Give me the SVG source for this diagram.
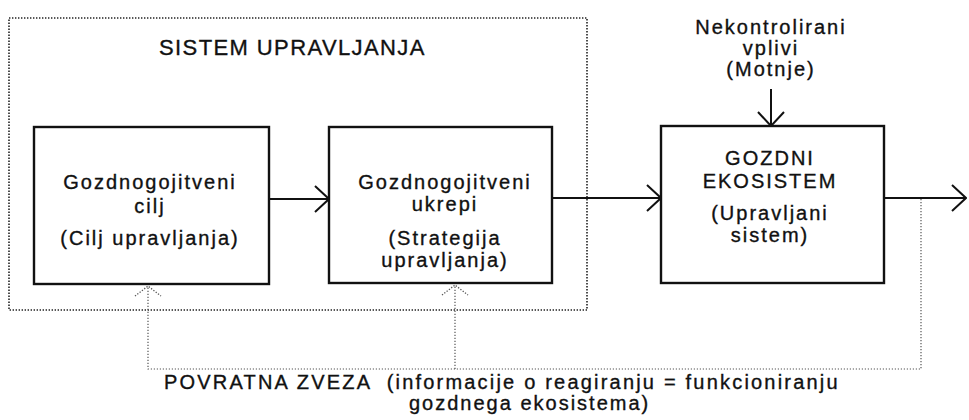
<svg xmlns="http://www.w3.org/2000/svg" width="969" height="420" viewBox="0 0 969 420">
<style>
text{font-family:"Liberation Sans",Arial,sans-serif;fill:#111;stroke:#111;stroke-width:0.35;letter-spacing:2px;white-space:pre}
.t{font-size:20px}
.big{font-size:22px;letter-spacing:1.4px}
.box{fill:none;stroke:#111;stroke-width:2.4}
.flow{fill:none;stroke:#111;stroke-width:2}
.dot{fill:none;stroke:#222;stroke-width:1.6;stroke-dasharray:1.4 1.6}
.fb{fill:none;stroke:#555;stroke-width:1.2;stroke-dasharray:1.2 1.8}
</style>
<defs>
<marker id="ah" viewBox="0 0 16 28" refX="15" refY="14" markerWidth="16" markerHeight="28" markerUnits="userSpaceOnUse" orient="auto">
<path d="M1,1 L15,14 L1,27" fill="none" stroke="#111" stroke-width="2"/>
</marker>
<marker id="ahd" viewBox="0 0 12 28" refX="11" refY="14" markerWidth="12" markerHeight="28" markerUnits="userSpaceOnUse" orient="auto">
<path d="M1,1 L11,14 L1,27" fill="none" stroke="#555" stroke-width="1.3" stroke-dasharray="1.3 1.6"/>
</marker>
</defs>
<g id="system-boundary">
<rect class="dot" x="9" y="18" width="578" height="292"/>
<text class="big" x="159" y="55">SISTEM UPRAVLJANJA</text>
</g>
<g id="node-cilj">
<rect class="box" x="34" y="127" width="235" height="157"/>
<text class="t" text-anchor="middle" x="150" y="189">Gozdnogojitveni</text>
<text class="t" text-anchor="middle" x="150" y="213">cilj</text>
<text class="t" text-anchor="middle" x="150" y="245">(Cilj upravljanja)</text>
</g>
<g id="node-ukrepi">
<rect class="box" x="329" y="127" width="223" height="156"/>
<text class="t" text-anchor="middle" x="445" y="189">Gozdnogojitveni</text>
<text class="t" text-anchor="middle" x="445" y="211">ukrepi</text>
<text class="t" text-anchor="middle" x="445" y="245">(Strategija</text>
<text class="t" text-anchor="middle" x="445" y="267">upravljanja)</text>
</g>
<g id="node-ekosistem">
<rect class="box" x="661" y="126" width="223" height="157"/>
<text class="t" text-anchor="middle" x="770" y="165">GOZDNI</text>
<text class="t" text-anchor="middle" x="770" y="188">EKOSISTEM</text>
<text class="t" text-anchor="middle" x="770" y="220">(Upravljani</text>
<text class="t" text-anchor="middle" x="770" y="242">sistem)</text>
</g>
<g id="node-motnje">
<text class="t" text-anchor="middle" x="771" y="34">Nekontrolirani</text>
<text class="t" text-anchor="middle" x="771" y="55">vplivi</text>
<text class="t" text-anchor="middle" x="771" y="76">(Motnje)</text>
</g>
<g id="label-povratna">
<text class="t" x="164" y="389" style="letter-spacing:2.2px">POVRATNA ZVEZA  (informacije o reagiranju = funkcioniranju</text>
<text class="t" x="409" y="410">gozdnega ekosistema)</text>
</g>
<g id="connectors">
<line class="flow" x1="269" y1="199" x2="329" y2="199" marker-end="url(#ah)"/>
<line class="flow" x1="552" y1="198" x2="661" y2="198" marker-end="url(#ah)"/>
<line class="flow" x1="884" y1="198" x2="966" y2="198" marker-end="url(#ah)"/>
<line class="flow" x1="771" y1="89" x2="771" y2="126" marker-end="url(#ah)"/>
<polyline class="fb" points="921,199 921,369 148,369 148,286" marker-end="url(#ahd)"/>
<line class="fb" x1="455" y1="369" x2="455" y2="285" marker-end="url(#ahd)"/>
</g>
</svg>
